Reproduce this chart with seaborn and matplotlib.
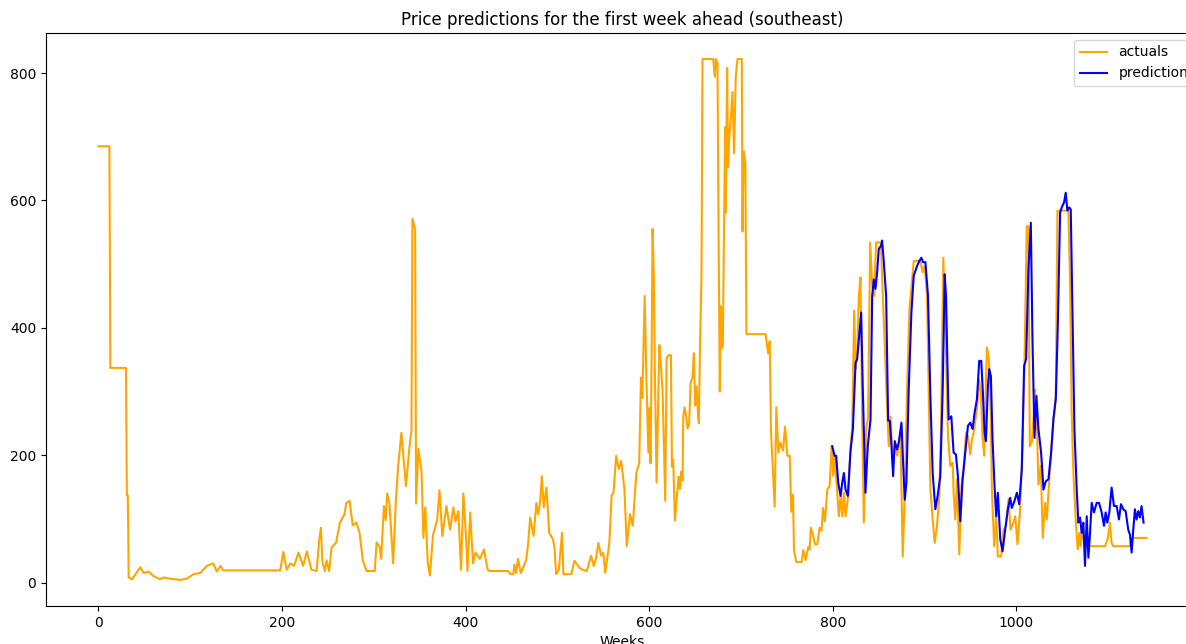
import matplotlib
matplotlib.use("Agg")
import matplotlib.pyplot as plt
import seaborn as sns
import pandas as pd

actual_weeks = [
    0, 12, 13, 30, 31, 32, 33, 36.6, 40, 45.6, 49, 54.7, 60, 67, 71, 78, 89, 96, 103.6, 111,
    118, 125, 129, 133, 136, 198, 201.4, 205, 209, 213, 218, 223, 227, 232, 237.7, 240.6,
    242.4, 244, 246.7, 248.5, 251.4, 254, 259, 263, 268, 270, 273.6, 277, 281, 284.4, 288,
    292, 301, 303, 306.5, 308, 311, 313, 314.5, 317, 321, 324, 326.5, 330, 335, 338.6, 341,
    342, 345, 346, 348.5, 352, 354, 356, 358.7, 361, 364.5, 369, 371.5, 374.6, 379, 383,
    386.6, 389, 392, 395, 397.5, 400.4, 402, 405, 408, 410.7, 415.4, 420, 424, 426, 446,
    449, 452, 453, 455, 457, 460, 462.5, 466, 468, 470.3, 474, 477, 479, 481, 483, 485, 488,
    491, 495, 496.8, 498.6, 501.5, 505, 506.5, 515, 518.5, 524, 527.5, 532, 536.6, 539.5,
    542, 544.6, 547.5, 550, 552, 555, 556.5, 559, 561, 564, 566.8, 569.4, 573, 575.5, 579,
    582, 586, 589, 591, 592.5, 595, 597, 599, 600, 601.4, 602.5, 603.6, 605, 606, 608, 611,
    612.7, 614.5, 617.4, 618.9, 621, 623.6, 624.7, 626.1, 627.9, 629.7, 631.9, 633.4, 634.8,
    636.3, 637, 638.4, 639.9, 641.7, 643.5, 645, 647.1, 648.6, 650, 651.5, 652.9, 654, 655.5,
    656.9, 658, 669.6, 671.4, 672.5, 674.3, 675.4, 676.8, 677.9, 679, 680.1, 681.6, 682.6,
    683.4, 684.8, 685.9, 687, 688.8, 690.6, 692.4, 694.2, 696, 700.8, 701.5, 702.9, 704.7,
    705.8, 726.8, 727.9, 729.4, 731.2, 732.6, 734.8, 736.6, 738.4, 740.6, 742.8, 745.7,
    747.9, 750.4, 753, 754.7, 756.6, 757.6, 760.2, 766, 767.8, 770.3, 773.2, 774.7, 776,
    778.3, 780.5, 783, 785.5, 787.7, 789.2, 791.3, 793.9, 796.4, 798.6, 800.4, 801.8, 804,
    806.5, 808.4, 810.2, 812, 813.8, 816.7, 819.2, 821, 823.2, 824.7, 826.5, 828.3, 830.1,
    831.9, 833.7, 836.3, 838.4, 840.6, 842.8, 845, 847.1, 852.2, 859, 860.9, 862.7, 865.2,
    867.4, 869.9, 873.6, 876.1, 878.3, 880.8, 883.4, 886.3, 888.1, 895.3, 897.8, 900, 902.6,
    906.2, 908.7, 910.9, 913.4, 916, 918.1, 920.3, 922.5, 925.4, 927.9, 930.5, 931.5, 933.3,
    935.2, 937.7, 939.9, 942.4, 945, 947.1, 949.7, 951.5, 953.3, 956.9, 959.4, 961.2, 963.1,
    964.9, 966.7, 967.8, 969.6, 971.4, 973.2, 975.7, 977.9, 979.7, 983.3, 985.9, 988.4,
    991.3, 993.5, 996.7, 998.6, 1001.1, 1004, 1006.5, 1008.7, 1011.2, 1013, 1014.5, 1016.7,
    1018.5, 1020.3, 1022.5, 1023.9, 1026.5, 1028.6, 1031.2, 1033, 1034.8, 1037.7, 1040.2,
    1042.8, 1044.6, 1056.5, 1058.3, 1060.1, 1062, 1064.5, 1066.7, 1068.5, 1069.9, 1071.7,
    1073.9, 1096.4, 1099.3, 1101.8, 1103.6, 1105.4, 1123.6, 1125.4, 1141.7,
]
actual_values = [
    685, 685, 337, 337, 137, 137, 8, 5, 12, 24, 15, 17, 10, 5, 8, 6, 4, 6, 13, 15,
    26, 30, 17, 26, 19, 19, 48, 20, 30, 26, 47, 26, 49, 20, 18, 68,
    86, 32, 18, 35, 18, 55, 63, 94, 107, 125, 128, 90, 94, 78, 35,
    18, 18, 63, 55, 37, 120, 98, 140, 124, 30, 129, 183, 235, 151, 210, 240,
    571, 555, 124, 210, 173, 70, 118, 32, 11, 75, 98, 145, 73, 120, 83,
    118, 96, 112, 20, 140, 73, 18, 110, 30, 47, 37, 52, 20, 18, 18,
    13, 13, 28, 15, 37, 15, 23, 36, 60, 102, 73, 125, 107, 125, 167, 118, 149,
    78, 68, 55, 13, 20, 78, 13, 13, 34, 23, 20, 18, 42, 26,
    38, 62, 42, 47, 15, 47, 62, 136, 141, 199, 178, 191, 146, 57, 107,
    89, 173, 187, 322, 290, 450, 314, 204, 274, 187, 343, 555, 479, 340, 157, 373,
    341, 302, 128, 352, 357, 357, 182, 193, 97, 128, 166, 147, 174,
    160, 259, 275, 264, 242, 250, 313, 322, 360, 278, 308, 270, 250, 390,
    483, 822, 822, 794, 822, 816, 565, 300, 434, 368, 371, 587, 715,
    581, 808, 652, 696, 729, 770, 674, 794, 822, 822, 551, 677, 658,
    390, 390, 376, 360, 379, 237, 171, 119, 275, 204, 220, 207,
    245, 199, 199, 111, 138, 51, 32, 32, 51, 35, 56, 52, 86,
    75, 60, 60, 86, 81, 117, 96, 146, 151, 214, 167, 199, 157,
    104, 136, 104, 141, 104, 136, 214, 241, 427, 335, 361, 450, 479,
    261, 94, 241, 261, 534, 466, 450, 534, 534, 277, 214, 261, 188,
    214, 199, 230, 41, 136, 303, 429, 476, 505, 505, 487, 497, 450,
    146, 99, 62, 89, 136, 267, 510, 398, 230, 183, 188, 141, 99,
    162, 44, 151, 178, 235, 230, 201, 225, 235, 272, 319, 298, 225,
    199, 314, 369, 356, 309, 146, 57, 104, 41, 41, 83, 89,
    131, 83, 94, 104, 60, 115, 214, 345, 560, 558, 214, 220,
    256, 303, 235, 154, 183, 70, 125, 99, 141, 204, 256,
    293, 584, 584, 476, 267, 172, 99, 52, 78, 57, 89,
    57, 57, 68, 94, 62, 57, 57, 70, 70,
]

pred_weeks = [
    799.3, 801.8, 803.6, 805.8, 808.4, 810.2, 812, 813.8, 816.3, 819.2, 821.8, 824.7, 826.5,
    829, 830.8, 832.6, 835.5, 838, 841, 842.8, 844.6, 846.4, 848.2, 850, 852.6, 853.6, 855.5,
    858, 860.2, 862, 863.4, 865.6, 867.4, 869.9, 871.8, 874.7, 876.5, 878.3, 880.1, 882.6,
    885.5, 888.1, 891.7, 894.2, 896.4, 898.2, 900.8, 903.6, 906.2, 908.7, 911.6, 914.1, 917,
    919.6, 921.8, 923.2, 926.1, 929, 931.5, 934, 936.2, 938.8, 941.3, 944.2, 947.1, 949.7,
    952.2, 954.4, 956.9, 959.4, 961.6, 963.4, 965.2, 966.7, 968.9, 970.3, 972.1, 973.9,
    976.1, 977.9, 979.7, 982.3, 984.8, 987.7, 990.6, 993.1, 994.9, 997.8, 1000.4, 1002.9,
    1005.8, 1008.3, 1010.5, 1013, 1015.6, 1017.4, 1019.6, 1021.7, 1023.9, 1026.8, 1029.4,
    1031.9, 1034.8, 1037.7, 1040.2, 1042.8, 1045, 1047.5, 1049.3, 1051.8, 1053.6, 1055.4,
    1057.3, 1059.1, 1060.9, 1063.1, 1065.6, 1067.4, 1069.2, 1071, 1072.8, 1074.6, 1076.5,
    1078.3, 1080.1, 1081.9, 1084.4, 1087.3, 1089.9, 1092.8, 1095.3, 1097.1, 1098.9, 1101.1,
    1103.6, 1106.2, 1109.1, 1111.6, 1113.8, 1116.3, 1118.9, 1121.7, 1123.6, 1125.4, 1127.2,
    1129, 1130.8, 1132.6, 1134.4, 1136.2, 1138.4,
]
pred_values = [
    214, 199, 199, 157, 136, 157, 172, 146, 136, 206, 241, 345, 351,
    393, 424, 303, 141, 214, 256, 450, 476, 461, 487, 524, 529, 537, 503,
    450, 254, 254, 225, 167, 222, 209, 220, 251, 188, 130, 157, 303,
    424, 482, 497, 505, 510, 503, 503, 450, 293, 172, 115, 136, 167,
    303, 484, 450, 256, 261, 204, 201, 167, 96, 162, 204, 246, 251,
    241, 267, 288, 348, 348, 298, 235, 222, 309, 335, 324, 225,
    151, 104, 141, 68, 49, 83, 115, 133, 117, 128, 141, 123,
    178, 340, 351, 492, 565, 382, 227, 293, 241, 204, 146,
    159, 162, 204, 256, 288, 403, 581, 589, 597, 612, 584,
    589, 586, 434, 241, 146, 94, 102, 78, 94, 26, 104,
    39, 78, 125, 110, 125, 125, 110, 89, 110, 94, 110,
    149, 120, 120, 99, 123, 115, 112, 83, 75, 47, 83,
    115, 99, 112, 102, 120, 94,
]

df_act = pd.DataFrame({"Weeks": actual_weeks, "value": actual_values})
df_pred = pd.DataFrame({"Weeks": pred_weeks, "value": pred_values})

fig = plt.figure(figsize=(11.86, 6.44), dpi=100)
ax = fig.add_axes([46 / 1186, 38 / 644, 1153 / 1186, 573 / 644])

sns.lineplot(data=df_act, x="Weeks", y="value", ax=ax, color="orange",
             label="actuals", estimator=None, sort=False, linewidth=1.5)
sns.lineplot(data=df_pred, x="Weeks", y="value", ax=ax, color="blue",
             label="predictions", estimator=None, sort=False, linewidth=1.5)

ax.set_title("Price predictions for the first week ahead (southeast)", fontsize=12)
ax.set_xlabel("Weeks")
ax.set_ylabel("")
ax.set_xticks([0, 200, 400, 600, 800, 1000])
ax.set_yticks([0, 200, 400, 600, 800])
ax.legend(loc="upper right", bbox_to_anchor=(1 + 9 / 1153, 1.0))

fig.savefig("out.png", dpi=100)
